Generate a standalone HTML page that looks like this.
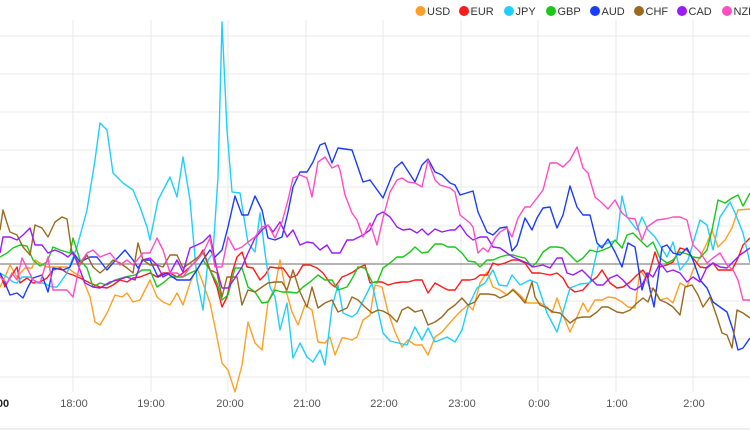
<!DOCTYPE html>
<html><head><meta charset="utf-8"><style>
html,body{margin:0;padding:0;background:#fff;width:750px;height:430px;overflow:hidden}
svg{display:block}
text{font-family:"Liberation Sans",sans-serif}
</style></head><body>
<svg width="750" height="430" viewBox="0 0 750 430" xmlns="http://www.w3.org/2000/svg">
<g stroke="#e8e8e8" stroke-width="1">
<line x1="0" y1="36" x2="750" y2="36"/><line x1="0" y1="74" x2="750" y2="74"/><line x1="0" y1="112" x2="750" y2="112"/><line x1="0" y1="150" x2="750" y2="150"/><line x1="0" y1="187" x2="750" y2="187"/><line x1="0" y1="226" x2="750" y2="226"/><line x1="0" y1="301" x2="750" y2="301"/><line x1="0" y1="339" x2="750" y2="339"/><line x1="0" y1="377" x2="750" y2="377"/>
<line x1="73" y1="20" x2="73" y2="392"/><line x1="151" y1="20" x2="151" y2="392"/><line x1="228" y1="20" x2="228" y2="392"/><line x1="306" y1="20" x2="306" y2="392"/><line x1="383" y1="20" x2="383" y2="392"/><line x1="461" y1="20" x2="461" y2="392"/><line x1="538" y1="20" x2="538" y2="392"/><line x1="616" y1="20" x2="616" y2="392"/><line x1="693" y1="20" x2="693" y2="392"/>
</g>
<line x1="0" y1="429" x2="750" y2="429" stroke="#ddd"/>
<line x1="0" y1="264" x2="750" y2="264" stroke="#888" stroke-width="1.3"/>
<g fill="none" stroke-width="1.4" stroke-linejoin="round">
<polyline stroke="#ffa024" points="0,287 5,277 10,265 17,277 25,268 32,268 35,260 40,263 47,267 57,267 67,267 73,272 82,277 90,297 95,322 100,325 107,313 115,295 122,297 127,293 133,302 140,300 150,280 157,297 163,302 170,305 177,293 183,305 190,283 197,268 203,283 210,303 215,327 222,363 228,370 235,392 242,365 248,322 255,343 262,350 268,302 275,287 280,260 285,287 292,312 298,325 305,305 312,310 318,342 325,343 330,337 335,355 342,338 345,338 352,340 357,337 363,320 370,315 375,285 382,287 388,312 395,332 402,347 408,340 415,345 422,345 428,355 435,337 442,332 448,325 455,317 462,310 468,305 473,310 480,283 487,272 493,287 500,290 507,295 513,289 520,295 527,303 533,303 540,303 547,307 552,313 557,298 563,315 570,332 577,317 583,303 588,312 595,300 602,300 608,297 615,298 622,302 628,307 635,308 640,270 645,277 650,288 655,290 660,300 667,298 673,303 680,283 687,287 693,270 700,257 707,243 712,230 718,247 725,240 732,228 738,210 750,209"/>
<polyline stroke="#ff1a1a" points="0,273 5,287 10,278 17,267 20,283 27,278 33,283 40,282 47,278 53,270 60,268 67,273 73,275 80,278 90,283 100,287 107,288 113,285 120,280 127,282 133,278 140,277 150,273 157,277 163,273 170,273 177,277 183,273 190,267 197,260 203,250 210,270 217,287 222,307 227,297 232,273 237,257 242,252 247,267 253,268 260,280 265,275 270,267 277,268 283,268 290,278 297,275 303,265 310,265 317,268 323,273 330,283 335,287 342,277 347,275 353,272 360,267 365,265 370,283 375,282 382,282 388,285 395,283 402,282 408,282 415,280 422,280 428,293 435,283 442,287 448,290 455,290 462,280 470,280 475,279 480,275 487,275 493,263 498,265 505,263 512,260 518,260 525,263 532,273 540,273 550,275 557,273 563,278 568,287 575,292 583,290 590,282 597,277 602,270 610,283 617,288 623,287 630,282 637,275 643,270 648,278 655,252 660,267 667,265 673,262 680,248 687,250 693,258 700,267 707,268 713,263 718,270 725,270 732,270 738,258 743,245 750,238"/>
<polyline stroke="#1ecfff" points="0,273 7,277 13,282 17,283 22,277 30,277 37,283 43,283 52,287 57,287 67,273 77,247 87,210 95,160 100,123 107,130 113,173 123,183 133,190 140,207 147,227 150,240 158,200 170,177 177,197 183,157 190,200 197,280 203,310 208,260 213,253 218,177 222,22 227,130 232,192 240,193 248,243 255,252 260,213 265,253 270,287 275,297 280,330 287,303 293,358 300,343 307,357 313,362 320,350 325,365 332,307 338,285 343,313 352,317 357,313 372,283 383,333 390,341 407,345 415,327 422,340 428,328 435,342 447,337 455,342 462,330 468,307 477,288 485,283 493,270 499,285 507,286 512,275 520,285 530,280 537,283 547,313 557,332 570,288 580,284 590,283 598,247 608,243 617,240 622,196 627,217 637,230 642,217 648,230 655,237 667,257 673,242 680,270 688,260 700,220 707,225 713,250 720,217 730,202 735,213 743,233 750,263"/>
<polyline stroke="#19c819" points="0,257 7,253 13,248 20,245 27,246 33,260 40,266 47,262 53,247 60,250 70,253 73,238 80,260 87,268 93,287 100,283 107,285 115,280 125,277 135,275 142,270 150,270 157,287 163,283 170,277 177,277 183,277 190,273 197,270 203,260 210,270 217,283 222,300 228,295 235,268 242,268 248,287 255,292 262,303 268,302 275,290 282,292 288,292 297,293 303,287 310,282 318,275 325,280 332,280 338,290 347,287 353,277 358,267 365,268 372,282 377,283 383,268 390,263 397,257 403,257 410,252 415,247 422,253 428,252 435,244 442,244 448,247 455,247 462,253 468,261 475,262 480,267 487,260 493,260 500,257 507,255 513,255 520,257 525,258 532,267 537,262 543,252 550,247 557,247 563,248 570,255 577,262 583,258 590,250 597,252 603,250 610,247 615,240 622,248 627,235 633,233 640,240 647,247 653,242 660,258 667,263 673,260 680,252 687,254 693,257 700,258 707,250 712,230 718,200 725,203 732,198 738,195 743,206 750,193"/>
<polyline stroke="#1a3cff" points="0,273 5,283 10,295 17,293 23,298 28,287 33,278 42,275 48,292 53,268 63,270 70,267 75,255 80,262 90,257 97,257 107,270 113,263 125,250 133,260 138,268 143,260 150,260 158,277 167,273 177,280 190,280 197,270 203,260 210,250 215,257 222,250 228,227 235,196 242,215 248,215 255,196 262,210 268,238 275,240 282,237 288,212 293,187 300,172 307,172 313,162 320,145 325,143 332,163 338,148 352,150 363,182 370,180 383,198 395,168 402,162 415,182 422,165 428,159 435,172 442,175 450,183 455,185 460,195 473,191 478,212 487,232 493,235 500,228 507,227 512,251 517,245 525,218 532,230 537,218 543,208 550,207 557,228 563,215 570,186 577,207 583,215 590,215 597,243 602,248 608,239 615,252 622,267 628,243 635,247 642,290 647,273 650,290 654,307 658,278 662,247 667,245 673,253 680,255 687,248 693,260 700,280 707,288 713,302 720,307 727,312 733,330 738,350 743,348 750,338"/>
<polyline stroke="#9a6a1e" points="0,230 3,210 7,223 10,232 17,235 23,247 30,255 35,225 42,228 48,237 55,222 62,217 67,219 72,253 80,265 87,255 93,267 100,273 107,267 113,260 120,263 127,268 133,273 138,243 143,260 150,265 157,265 163,267 170,255 177,255 183,268 190,263 197,258 203,252 210,270 217,273 222,297 227,277 232,277 237,277 242,305 248,290 255,292 262,287 268,283 275,282 282,282 287,290 293,270 300,292 307,307 312,287 318,308 325,303 332,300 338,312 347,308 352,297 358,300 365,307 372,313 378,310 383,311 390,315 397,322 402,310 408,307 415,312 422,310 428,325 435,322 442,317 448,310 455,305 462,298 468,305 475,302 480,294 488,294 495,295 500,298 507,295 513,290 520,297 525,303 532,282 535,297 540,305 547,308 553,312 560,313 567,320 570,323 577,318 583,317 590,317 597,312 602,307 608,307 617,312 623,313 630,310 637,303 643,298 648,302 653,288 660,300 667,303 673,307 680,315 685,287 692,285 698,295 703,307 710,297 717,317 722,333 727,335 732,348 737,310 743,313 750,318"/>
<polyline stroke="#9b1aff" points="0,253 3,237 10,237 17,240 23,235 30,228 35,245 42,245 48,253 55,250 62,253 68,257 73,252 78,265 85,283 93,287 100,288 110,282 118,280 127,277 135,280 142,260 150,258 157,265 163,277 170,273 177,260 183,272 190,248 197,245 203,242 210,235 217,270 222,288 228,288 235,278 242,267 248,253 255,238 262,230 268,225 273,232 280,222 287,237 293,230 300,245 307,242 313,243 320,250 327,245 332,253 340,253 347,240 353,240 363,235 370,230 377,215 383,212 390,217 397,227 403,230 410,229 417,233 422,229 428,235 435,229 442,232 450,230 455,230 460,225 467,235 473,240 480,237 487,237 493,247 500,248 507,253 513,257 520,260 527,263 533,267 543,265 550,268 557,258 562,258 567,273 573,275 582,270 590,278 597,285 603,285 610,278 617,275 623,280 630,288 635,290 642,285 648,273 653,277 660,263 667,272 673,270 680,273 687,282 693,277 700,282 707,267 713,263 720,267 727,268 733,262 740,255 750,248"/>
<polyline stroke="#ff4dc4" points="0,277 7,283 12,273 17,280 22,258 27,268 33,280 40,283 48,257 53,290 60,290 67,290 73,297 80,263 87,253 93,250 100,257 110,253 120,265 127,260 133,265 143,253 150,253 157,238 163,250 170,273 177,273 183,277 190,267 197,260 203,253 210,238 215,267 222,267 228,237 235,250 242,247 248,242 255,237 262,227 268,225 275,238 282,222 288,200 293,178 300,175 307,178 312,197 318,162 325,157 332,168 338,165 340,170 345,195 352,213 357,220 363,237 370,223 377,245 383,218 390,192 397,180 402,178 408,182 415,183 422,187 428,160 435,180 440,185 450,188 455,192 460,215 470,223 473,227 478,253 483,248 488,252 495,238 500,232 507,228 512,237 518,218 525,207 530,207 537,198 543,190 550,163 557,163 563,167 570,160 577,147 583,168 588,173 595,197 602,203 608,209 615,200 622,213 628,218 635,219 642,240 647,227 657,220 665,219 673,217 680,217 687,220 693,245 700,252 707,263 713,258 720,253 727,265 733,270 738,280 743,300 750,300"/>
</g>
<g font-size="11" fill="#333">
<circle cx="420.5" cy="11" r="5" fill="#ffa024"/><text x="427" y="15">USD</text>
<circle cx="464" cy="11" r="5" fill="#ff1a1a"/><text x="470.5" y="15">EUR</text>
<circle cx="509" cy="11" r="5" fill="#1ecfff"/><text x="515.5" y="15">JPY</text>
<circle cx="551" cy="11" r="5" fill="#19c819"/><text x="557.5" y="15">GBP</text>
<circle cx="595" cy="11" r="5" fill="#1a3cff"/><text x="601.5" y="15">AUD</text>
<circle cx="639" cy="11" r="5" fill="#9a6a1e"/><text x="645.5" y="15">CHF</text>
<circle cx="682" cy="11" r="5" fill="#9b1aff"/><text x="688.5" y="15">CAD</text>
<circle cx="727" cy="11" r="5" fill="#ff4dc4"/><text x="733.5" y="15">NZD</text>
</g>
<g font-size="11" fill="#555" text-anchor="middle">
<text x="-5" y="407" font-weight="bold" fill="#222">17:00</text>
<text x="74" y="407">18:00</text><text x="151" y="407">19:00</text><text x="230" y="407">20:00</text><text x="307" y="407">21:00</text><text x="384" y="407">22:00</text><text x="462" y="407">23:00</text><text x="539" y="407">0:00</text><text x="617" y="407">1:00</text><text x="694" y="407">2:00</text>
</g>
</svg>
</body></html>
